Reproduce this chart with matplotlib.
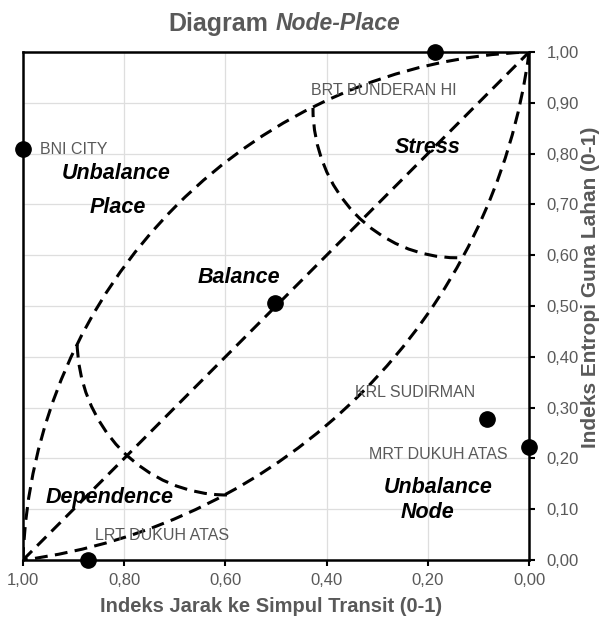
import numpy as np
import matplotlib
matplotlib.use("Agg")
import matplotlib.pyplot as plt
from matplotlib.patches import Arc

plt.rcParams['font.family'] = ['Liberation Sans', 'DejaVu Sans']

# stations: x = node index (jarak ke simpul transit), y = place index (entropi guna lahan)
station_names = ["BNI CITY", "BRT BUNDERAN HI", "", "KRL SUDIRMAN", "MRT DUKUH ATAS", "LRT DUKUH ATAS"]
station_x = [1.00, 0.185, 0.503, 0.083, 0.00, 0.871]
station_y = [0.81, 1.00, 0.505, 0.277, 0.222, 0.00]

xticks = [1.0, 0.8, 0.6, 0.4, 0.2, 0.0]
yticks = [0.0, 0.1, 0.2, 0.3, 0.4, 0.5, 0.6, 0.7, 0.8, 0.9, 1.0]

# guide shapes of the node-place model
diagonal_x = [1.0, 0.0]
diagonal_y = [0.0, 1.0]
upper_center = -0.035      # circle centre (c, c) of the "place" side of the lens
lower_center = 1.15        # circle centre (c, c) of the "node" side of the lens
stress_arc = (0.142, 0.89, 0.285, 0.295)      # cx, cy, rx, ry
dependence_arc = (0.597, 0.433, 0.296, 0.305)

grey = '#595959'
dash = (0, (4.2, 2.4))
lw = 2.2

fig = plt.figure(figsize=(6.04, 6.21), dpi=100)
ax = fig.add_axes([0.038, 0.0982, 0.838, 0.818])
ax.set_xlim(1, 0)
ax.set_ylim(0, 1)

ax.set_xticks(xticks)
ax.set_yticks(yticks)
ax.set_xticklabels([f"{v:.2f}".replace('.', ',') for v in xticks])
ax.set_yticklabels([f"{v:.2f}".replace('.', ',') for v in yticks])
ax.yaxis.tick_right()
ax.yaxis.set_label_position('right')
ax.tick_params(axis='both', direction='out', length=4, width=1.5, colors='black',
               labelcolor=grey, labelsize=12)
ax.tick_params(axis='y', pad=8.5)
ax.tick_params(axis='x', pad=5)
ax.grid(True, color='#dedede', linewidth=0.9)
ax.set_axisbelow(True)
for s in ax.spines.values():
    s.set_linewidth(1.8)
    s.set_color('black')

# lens
for c in (upper_center, lower_center):
    r = np.hypot(1 - c, c)
    t1 = np.degrees(np.arctan2(0 - c, 1 - c))
    t2 = np.degrees(np.arctan2(1 - c, 0 - c))
    a, b = sorted([t1 % 360, t2 % 360])
    ax.add_patch(Arc((c, c), 2 * r, 2 * r, theta1=a, theta2=b,
                     color='black', lw=lw, linestyle=dash, zorder=3))
ax.plot(diagonal_x, diagonal_y, color='black', lw=lw, linestyle=dash, zorder=3)
for cx, cy, rx, ry in (stress_arc, dependence_arc):
    ax.add_patch(Arc((cx, cy), 2 * rx, 2 * ry, theta1=270, theta2=360,
                     color='black', lw=lw, linestyle=dash, zorder=3))

ax.plot(station_x, station_y, 'o', color='black', markersize=11, clip_on=False, zorder=5)

lab = dict(color=grey, fontsize=11.5, va='center')
ax.text(0.966, 0.809, "BNI CITY", ha='left', **lab)
ax.text(0.43, 0.925, "BRT BUNDERAN HI", ha='left', **lab)
ax.text(0.344, 0.329, "KRL SUDIRMAN", ha='left', **lab)
ax.text(0.042, 0.207, "MRT DUKUH ATAS", ha='right', **lab)
ax.text(0.858, 0.049, "LRT DUKUH ATAS", ha='left', **lab)

reg = dict(fontsize=15.5, fontweight='bold', fontstyle='italic', ha='center', va='center',
           color='black', zorder=6)
ax.text(0.816, 0.760, "Unbalance", **reg)
ax.text(0.812, 0.693, "Place", **reg)
ax.text(0.20, 0.813, "Stress", **reg)
ax.text(0.573, 0.557, "Balance", **reg)
ax.text(0.828, 0.124, "Dependence", **reg)
ax.text(0.18, 0.142, "Unbalance", **reg)
ax.text(0.20, 0.093, "Node", **reg)

ax.set_xlabel("Indeks Jarak ke Simpul Transit (0-1)", fontsize=14.5, fontweight='bold', color=grey)
ax.xaxis.set_label_coords(0.49, -0.092)
ax.xaxis.label.set_va('center')
ax.set_ylabel("Indeks Entropi Guna Lahan (0-1)", fontsize=15, fontweight='bold', color=grey,
              rotation=90)
ax.yaxis.set_label_coords(1.122, 0.537)
ax.yaxis.label.set_va('center')

fig.text(268 / 604, 1 - 24 / 621, "Diagram", fontsize=18, fontweight='bold', color=grey,
         ha='right', va='center')
fig.text(276 / 604, 1 - 24 / 621, "Node-Place", fontsize=16.5, fontweight='bold',
         fontstyle='italic', color=grey, ha='left', va='center')

fig.savefig('out.png', dpi=100)
